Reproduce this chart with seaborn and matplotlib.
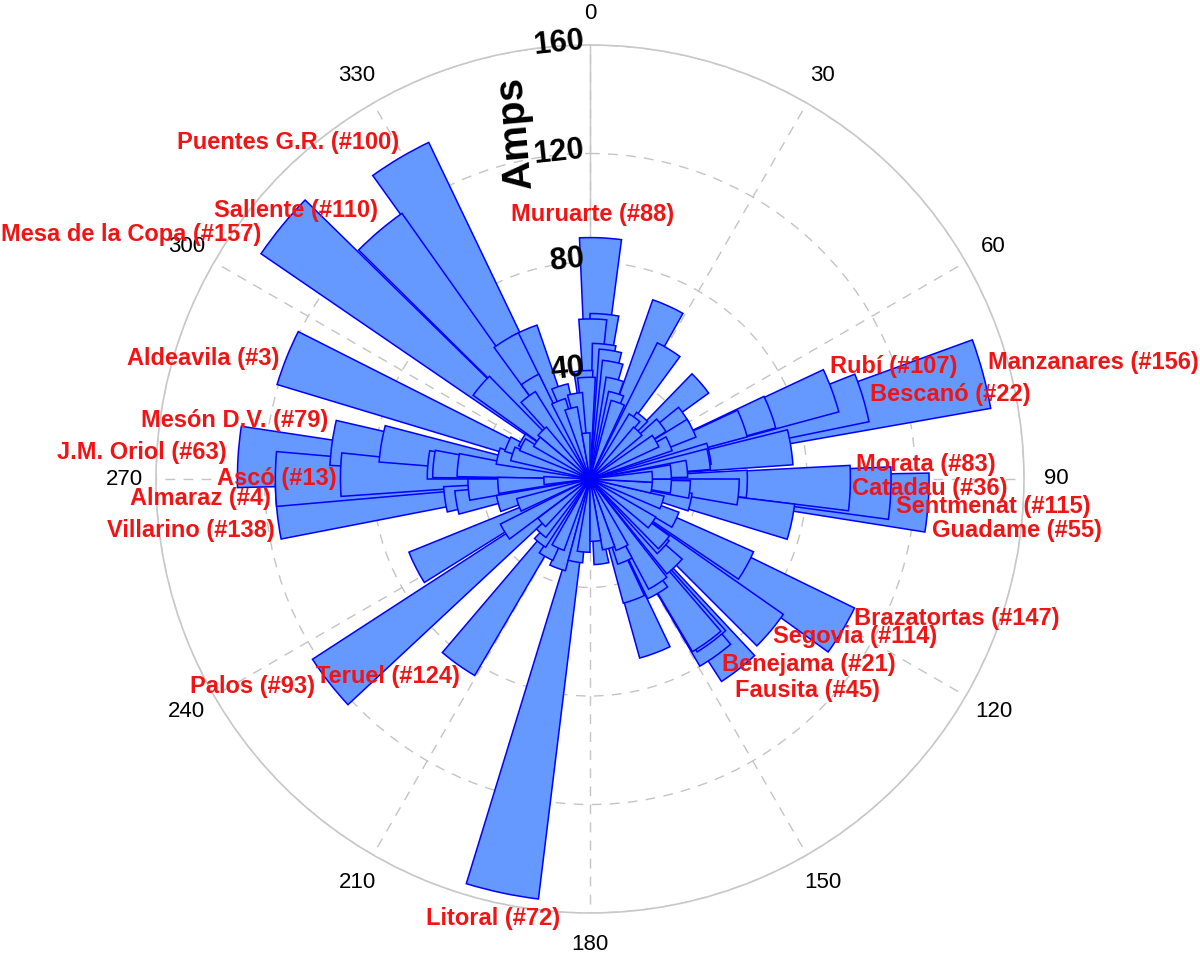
import numpy as np
import matplotlib
matplotlib.use("Agg")
import matplotlib.pyplot as plt
import seaborn as sns

# phase angle of each substation (deg, clockwise from north) and its current (A)
angles = [1, 2.5, 5, 6, 9, 11, 14, 17, 20, 24.3, 31.3, 36, 40, 45, 49.1, 53, 56, 60, 63.4, 66,
          69.6, 70, 69.9, 73.4, 75, 78, 80.5, 81, 84, 85, 88, 91.8, 92, 92.7, 94, 95, 95, 96, 98,
          102, 103, 108, 115.5,
          119, 121, 125, 130, 130.6, 133, 136, 142, 143.2, 144.3, 144.6, 147, 149.3, 155, 157,
          159.5, 160, 165, 172.3, 175,
          185, 190, 192, 200, 205, 209.5, 215.4, 218, 222, 228, 232, 238.3, 243, 250, 255, 260,
          262, 264, 265, 266, 268,
          270, 271, 273.6, 275, 275.5, 276, 278, 279.6, 284, 288, 291.8, 293, 297, 300, 305,
          309.4, 310.6, 315, 319.7, 323, 328.9, 329, 329.4, 336, 338, 342, 345, 350, 355, 356.5, 358]
amps = [59, 89, 61, 50, 48, 44, 38, 33, 30, 70, 56, 28, 30, 25, 54, 33, 42, 28, 42, 32,
        71, 60, 95, 105, 150, 45, 44.5, 75, 36, 30, 23, 58, 96, 111, 125, 55, 30, 37, 23,
        76, 38, 28, 35,
        66, 108.5, 28, 87, 36, 37, 45, 89, 75, 74, 80, 46, 49, 28, 33,
        68.5, 47.4, 26.5, 31.6, 23,
        27, 31, 156, 35, 28, 33, 84, 30, 27, 24, 122, 37, 72, 28, 35, 50,
        54, 116, 45, 34, 17,
        116, 92, 130, 60, 58, 49, 96, 78, 35, 30, 120.5, 33, 28, 29, 24,
        147, 53, 25, 120, 38, 60, 43, 137.6, 60, 31, 36, 27, 32, 17, 40, 37.5]

# labelled substations
names = ["Puentes G.R. (#100)", "Sallente (#110)", "Mesa de la Copa (#157)", "Muruarte (#88)",
         "Aldeavila (#3)", "Mesón D.V. (#79)", "J.M. Oriol (#63)", "Ascó (#13)", "Almaraz (#4)",
         "Villarino (#138)", "Palos (#93)", "Teruel (#124)", "Litoral (#72)", "Fausita (#45)",
         "Benejama (#21)", "Segovia (#114)", "Brazatortas (#147)", "Guadame (#55)",
         "Sentmenat (#115)", "Catadau (#36)", "Morata (#83)", "Bescanó (#22)", "Rubí (#107)",
         "Manzanares (#156)"]

r_ticks = [40, 80, 120, 160]
theta_ticks = list(range(0, 360, 30))

W, H = 1200, 959
# label centres in figure pixels (from top-left)
label_xy = [(288, 143), (296, 210), (131, 234), (593, 215), (203, 358), (235, 421), (142, 452),
            (277, 479), (200, 498), (191, 530), (252, 686), (388, 676), (493, 918), (807, 690),
            (809, 664), (855, 637), (957, 618), (1017, 531), (993, 507), (930, 488), (926, 465),
            (950, 394), (894, 367), (1093, 362)]

sns.set_theme(style="white")
plt.rcParams["font.family"] = ["Liberation Sans", "DejaVu Sans"]

fig = plt.figure(figsize=(W / 100, H / 100), dpi=100)
cx, cy, R = 590, 479, 434
ax = fig.add_axes([(cx - R) / W, (H - cy - R) / H, 2 * R / W, 2 * R / H], projection="polar")

ax.set_theta_zero_location("N")
ax.set_theta_direction(-1)

# tall bars first so the short ones stay visible on top
order = np.argsort(amps)[::-1]
th = np.deg2rad(np.array(angles)[order])
rr = np.array(amps)[order]
ax.bar(th, rr, width=np.deg2rad(10), bottom=0, color="#6699FF", edgecolor="#0000FF",
       linewidth=1.1, align="center", zorder=2)

ax.set_ylim(0, 160)
ax.set_yticks(r_ticks)
ax.set_yticklabels([])
ax.set_xticks(np.deg2rad(theta_ticks))
ax.set_xticklabels([str(t) for t in theta_ticks], fontsize=16, color="black")
ax.tick_params(axis="x", pad=10)
ax.set_axisbelow(True)
ax.grid(True, color="#c4c4c4", linestyle=(0, (7, 6)), linewidth=1.0)
ax.axvline(0, color="#c4c4c4", linewidth=1.0, zorder=0)
ax.spines["polar"].set_color("#c8c8c8")
ax.spines["polar"].set_linewidth(1.2)

for r in r_ticks:
    ax.annotate(str(r), xy=(0, r), xytext=(-3, 1), textcoords="offset points",
                ha="right", va="center", fontsize=22, fontweight="bold", rotation=6,
                color="black", zorder=5)

fig.text(515 / W, 1 - 133 / H, "Amps", fontsize=29, fontweight="bold", rotation=95,
         ha="center", va="center", color="black")

for name, (x, y) in zip(names, label_xy):
    fig.text(x / W, 1 - y / H, name, color="#F01414", fontsize=17, fontweight="bold",
             ha="center", va="center")

fig.savefig("out.png", dpi=100)
